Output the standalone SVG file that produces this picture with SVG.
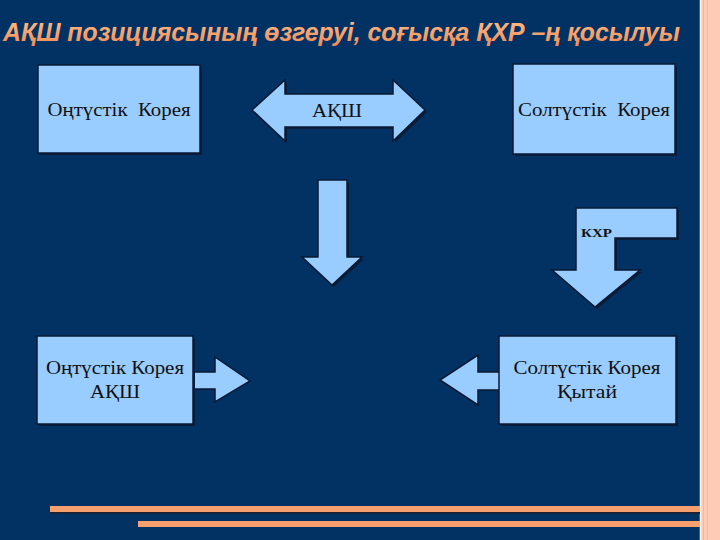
<svg xmlns="http://www.w3.org/2000/svg" width="720" height="540" viewBox="0 0 720 540">
<defs>
<linearGradient id="tg" x1="0" y1="0" x2="0" y2="1">
<stop offset="0" stop-color="#FFC08A"/>
<stop offset="1" stop-color="#F08A55"/>
</linearGradient>
<style>
.box{fill:#99CCFF;stroke:#0A1A33;stroke-width:1.5}
.shape{fill:#99CCFF;stroke:#0A1A33;stroke-width:1.5}
.sh{fill:#0C1D3A}
.lbl{font-family:"Liberation Serif","Times New Roman",serif;font-size:19px;fill:#111;text-anchor:middle}
.title{font-family:"Liberation Sans",Arial,sans-serif;font-size:26px;font-weight:bold;font-style:italic;fill:url(#tg)}
.bar{fill:#F6A070}
</style>
</defs>
<rect width="720" height="540" fill="#023263"/>
<rect x="700" y="0" width="20" height="540" fill="#FECBB6"/>
<line x1="700.5" y1="0" x2="700.5" y2="540" stroke="#FFF4EE" stroke-width="1.5"/>
<line x1="703.5" y1="0" x2="703.5" y2="540" stroke="#F2B69E" stroke-width="1"/>
<line x1="707.5" y1="0" x2="707.5" y2="540" stroke="#F5BCA5" stroke-width="1"/>
<text class="title" x="3" y="41" textLength="677" lengthAdjust="spacingAndGlyphs">АҚШ позициясының өзгеруі, соғысқа ҚХР –ң қосылуы</text>

<g id="connectors">
<g id="double-arrow">
<polygon class="sh" points="254,112 287,82 287,96 395,96 395,82 427,112 395,143 395,129 287,129 287,143"/>
<polygon class="shape" points="252,110 285,80 285,94 393,94 393,80 425,110 393,141 393,127 285,127 285,141"/>
<text class="lbl" x="337" y="117" textLength="50" lengthAdjust="spacingAndGlyphs">АҚШ</text>
</g>
<g id="down-arrow">
<polygon class="sh" points="320,182 349,182 349,259 364,259 334,287 304,259 320,259"/>
<polygon class="shape" points="318,180 347,180 347,257 362,257 332,285 302,257 318,257"/>
</g>
<g id="kxp-arrow">
<polygon class="sh" points="578,210 679,210 679,240 617,240 617,272 642,272 597,309 554,272 578,272"/>
<polygon class="shape" points="576,208 677,208 677,238 615,238 615,270 640,270 595,307 552,270 576,270"/>
<text x="581" y="237" font-family="'Liberation Serif','Times New Roman',serif" font-size="13" font-weight="bold" fill="#111" textLength="31" lengthAdjust="spacingAndGlyphs">КХР</text>
</g>
<polygon id="right-arrow" class="shape" points="190,372 215,372 215,357 250,381 215,402 215,389 190,389"/>
<polygon id="left-arrow" class="shape" points="502,372 478,372 478,355 440,380 478,405 478,390 502,390"/>
</g>

<g id="south-korea">
<rect class="sh" x="40" y="67" width="162" height="88"/>
<rect class="box" x="38" y="65" width="162" height="88"/>
<text class="lbl" x="119" y="116" textLength="143" lengthAdjust="spacingAndGlyphs" xml:space="preserve">Оңтүстік  Корея</text>
</g>
<g id="north-korea">
<rect class="sh" x="515" y="66" width="162" height="90"/>
<rect class="box" x="513" y="64" width="162" height="90"/>
<text class="lbl" x="594" y="116" textLength="152" lengthAdjust="spacingAndGlyphs" xml:space="preserve">Солтүстік  Корея</text>
</g>
<g id="south-korea-usa">
<rect class="sh" x="39" y="338" width="156" height="88"/>
<rect class="box" x="37" y="336" width="156" height="88"/>
<text class="lbl" x="115" y="374" textLength="138" lengthAdjust="spacingAndGlyphs">Оңтүстік Корея</text>
<text class="lbl" x="115" y="398" textLength="50" lengthAdjust="spacingAndGlyphs">АҚШ</text>
</g>
<g id="north-korea-china">
<rect class="sh" x="501" y="338" width="177" height="88"/>
<rect class="box" x="499" y="336" width="177" height="88"/>
<text class="lbl" x="587" y="374" textLength="147" lengthAdjust="spacingAndGlyphs">Солтүстік Корея</text>
<text class="lbl" x="587" y="398" textLength="60" lengthAdjust="spacingAndGlyphs">Қытай</text>
</g>

<rect x="50" y="512" width="650" height="2" fill="#1A2238"/>
<rect class="bar" x="50" y="506" width="650" height="6"/>
<rect class="bar" x="138" y="521" width="562" height="6"/>
</svg>
